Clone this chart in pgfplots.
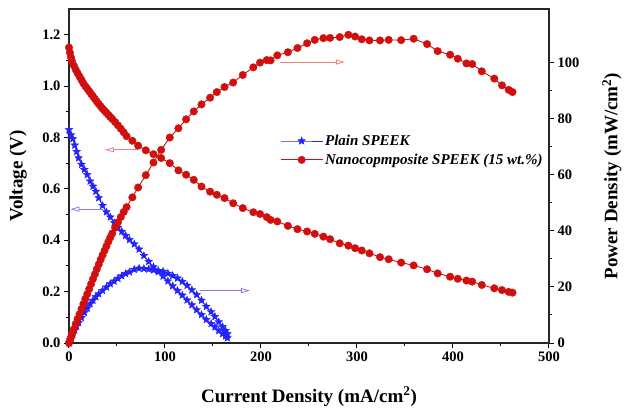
\documentclass[border=0pt]{standalone}
\usepackage{fontspec}
\setmainfont{Liberation Serif}
\usepackage{pgfplots}
\pgfplotsset{compat=1.18}
\usepackage{pgfplotstable}
\usetikzlibrary{plotmarks,arrows.meta}
\definecolor{cred}{RGB}{210,15,15}
\definecolor{cblue}{RGB}{35,35,250}
\definecolor{ared}{RGB}{235,130,130}
\definecolor{ablue}{RGB}{125,125,250}

\pgfdeclareplotmark{fstar}{%
  \pgfpathmoveto{\pgfpointpolar{90}{\pgfplotmarksize}}%
  \pgfpathlineto{\pgfpointpolar{126}{0.45\pgfplotmarksize}}%
  \pgfpathlineto{\pgfpointpolar{162}{\pgfplotmarksize}}%
  \pgfpathlineto{\pgfpointpolar{198}{0.45\pgfplotmarksize}}%
  \pgfpathlineto{\pgfpointpolar{234}{\pgfplotmarksize}}%
  \pgfpathlineto{\pgfpointpolar{270}{0.45\pgfplotmarksize}}%
  \pgfpathlineto{\pgfpointpolar{306}{\pgfplotmarksize}}%
  \pgfpathlineto{\pgfpointpolar{342}{0.45\pgfplotmarksize}}%
  \pgfpathlineto{\pgfpointpolar{18}{\pgfplotmarksize}}%
  \pgfpathlineto{\pgfpointpolar{54}{0.45\pgfplotmarksize}}%
  \pgfpathclose
  \pgfusepathqfillstroke
}

\pgfplotstableread{
I V P
0 1.150 0.0
1 1.130 1.0
2 1.112 2.0
3 1.098 3.0
5 1.080 4.9
7 1.064 6.8
9 1.050 8.6
11 1.037 10.3
13 1.024 12.1
15 1.011 13.9
17 1.000 15.7
19 0.990 17.4
21 0.980 19.2
23 0.970 21.0
25 0.960 22.8
27 0.950 24.5
29 0.940 26.3
31 0.930 28.0
33 0.921 29.7
35 0.912 31.3
37 0.904 32.9
39 0.896 34.5
41 0.888 36.1
43 0.880 37.6
45 0.872 39.0
48 0.860 41.1
51 0.847 43.0
54 0.834 44.9
57 0.820 46.7
60 0.805 48.4
66 0.787 51.9
72 0.768 55.4
80 0.750 59.8
88 0.735 64.3
96 0.720 68.8
105 0.700 73.2
114 0.672 76.5
122 0.655 79.7
130 0.635 82.5
138 0.609 85.0
147 0.589 87.4
154 0.577 89.4
162 0.564 91.2
171 0.544 92.8
181 0.525 95.5
192 0.509 98.2
199 0.502 99.9
206 0.490 100.8
210 0.479 100.7
217 0.473 102.5
228 0.456 103.6
238 0.443 105.1
248 0.434 106.8
256 0.425 108.0
265 0.414 108.6
272 0.404 108.7
282 0.388 109.0
291 0.379 109.8
298 0.369 109.2
305 0.360 108.2
313 0.349 107.8
324 0.334 107.8
333 0.326 108.0
346 0.313 107.9
359 0.302 108.4
373 0.287 106.5
384 0.271 104.0
397 0.258 102.7
405 0.250 101.3
414 0.243 99.6
420 0.239 99.4
430 0.226 96.8
443 0.213 94.2
451 0.206 91.8
458 0.199 90.2
462 0.196 89.4
}\nano

\pgfplotstableread{
I V P
0 0.830 0.0
2 0.810 1.6
4 0.795 3.2
6 0.770 4.6
8 0.745 6.0
10 0.720 7.2
13 0.695 9.0
16 0.675 10.8
19 0.655 12.4
22 0.630 13.9
25 0.610 15.2
28 0.590 16.5
31 0.565 17.5
35 0.535 18.7
39 0.510 19.9
43 0.490 21.1
47 0.468 22.0
51 0.450 23.0
55 0.434 23.9
59 0.418 24.7
63 0.402 25.3
68 0.385 26.2
73 0.365 26.6
78 0.340 26.5
83 0.317 26.3
88 0.296 26.0
93 0.277 25.8
98 0.260 25.5
103 0.241 24.8
108 0.222 24.0
113 0.204 23.1
118 0.186 21.9
123 0.167 20.5
128 0.148 18.9
133 0.129 17.2
138 0.110 15.2
143 0.091 13.0
148 0.075 11.1
152 0.062 9.4
156 0.048 7.5
160 0.036 5.8
163 0.027 4.4
165 0.020 3.3
}\plain

\pgfplotsset{
  base/.style={scale only axis, width=480pt, height=334pt,
    at={(0,0)}, anchor=south west,
    xmin=0, xmax=500,
    tick align=outside, major tick length=5pt, minor tick length=3pt,
    every tick/.style={black, line width=1pt},
    tick label style={font=\fontsize{14.5}{16}\selectfont\bfseries},
    /pgf/number format/assume math mode=true,
    label style={font=\fontsize{19}{22}\selectfont\bfseries},
    axis line style={line width=1.2pt, black!85},
  },
  redstyle/.style={cred, line width=0.9pt, mark=*, mark size=3.8pt,
    mark options={fill=cred, draw=cred, line width=0.3pt}},
  bluestyle/.style={cblue, line width=0.9pt, mark=fstar, mark size=4pt,
    mark options={fill=cblue, draw=cblue, line width=0.4pt}},
}

\begin{document}
\begin{tikzpicture}
\useasboundingbox (-69pt,-65pt) rectangle (556pt,343pt);
\begin{axis}[base,
  ymin=0, ymax=1.3,
  ytick={0,0.2,0.4,0.6,0.8,1.0,1.2}, minor y tick num=1,
  xtick={0,100,200,300,400,500}, minor x tick num=1,
  xtick pos=bottom, ytick pos=left,
  yticklabel style={/pgf/number format/.cd, fixed, fixed zerofill, precision=1},
  xlabel={Current Density (mA/cm\textsuperscript{2})},
  ylabel={Voltage (V)},
  xlabel style={at={(axis description cs:0.5,-0.177)}, anchor=base},
  ylabel style={at={(axis description cs:-0.106,0.5)}, anchor=center},
  legend image code/.code={\draw[mark repeat=2,mark phase=2] plot coordinates {(0pt,0pt) (21pt,0pt) (42pt,0pt)};},
  legend style={at={(axis cs:219.8,0.818)}, anchor=north west, draw=none, fill=none,
    inner sep=0pt, row sep=3pt, font=\fontsize{15}{18}\selectfont\bfseries\itshape},
  legend cell align=left,
]
\addplot[bluestyle] table[x=I, y=V] {\plain};
\addlegendentry{Plain SPEEK}
\addplot[redstyle] table[x=I, y=V] {\nano};
\addlegendentry{Nanocopmposite SPEEK (15 wt.\%)}
\addplot[bluestyle, forget plot] table[x=I, y expr=\thisrow{P}/(119/1.3)] {\plain};
\draw[ared, line width=0.8pt, -{Triangle[open,length=9pt,width=5pt]}] (axis cs:72,0.752) -- (axis cs:37.5,0.752);
\draw[ablue, line width=0.8pt, -{Triangle[open,length=9pt,width=5pt]}] (axis cs:35.5,0.521) -- (axis cs:1.5,0.521);
\draw[ablue, line width=0.8pt, -{Triangle[open,length=9pt,width=5pt]}] (axis cs:136.5,0.204) -- (axis cs:188.5,0.204);
\end{axis}
\begin{axis}[base,
  ymin=0, ymax=119,
  axis x line=none, axis y line*=right,
  ytick={0,20,40,60,80,100}, minor y tick num=1,
  ylabel={Power Density (mW/cm\textsuperscript{2})},
  ylabel style={at={(axis description cs:1.131,0.5)}, anchor=center, rotate=0},
]
\addplot[redstyle] table[x=I, y=P] {\nano};
\draw[ared, line width=0.8pt, -{Triangle[open,length=9pt,width=5pt]}] (axis cs:220,100.1) -- (axis cs:287.5,100.1);
\end{axis}
\end{tikzpicture}
\end{document}
